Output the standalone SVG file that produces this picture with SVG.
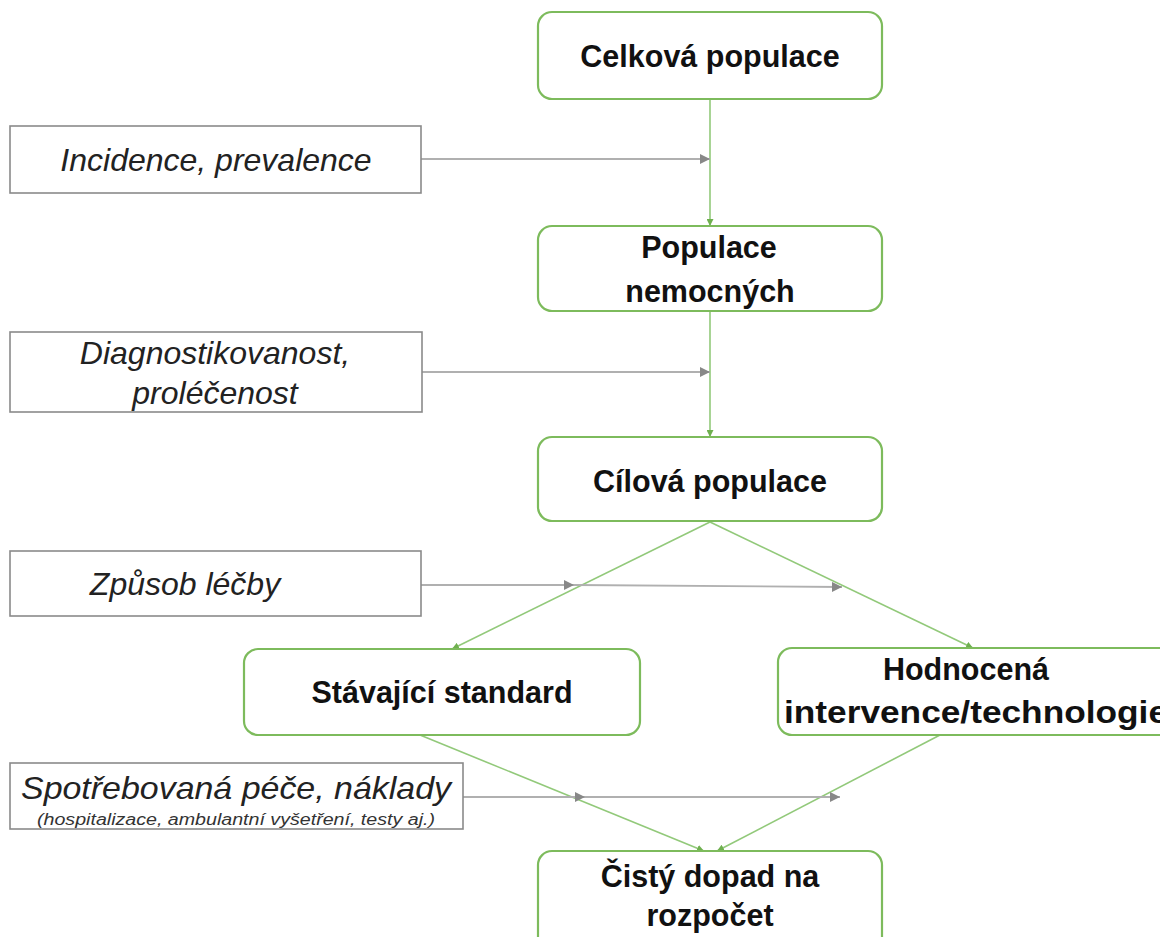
<svg xmlns="http://www.w3.org/2000/svg" width="1160" height="937" viewBox="0 0 1160 937">
<defs>
<style>
.node{fill:#fff;stroke:#7dbb5c;stroke-width:2.2}
.inp{fill:#fff;stroke:#8a8a8a;stroke-width:1.6}
.nt{font-family:"Liberation Sans",Arial,sans-serif;font-weight:bold;font-size:30.5px;fill:#111;text-anchor:middle}
.it{font-family:"Liberation Sans",Arial,sans-serif;font-style:italic;font-size:32px;fill:#222;text-anchor:middle}
.sm{font-family:"Liberation Sans",Arial,sans-serif;font-style:italic;font-size:16px;fill:#333;text-anchor:middle}
.g{stroke:#92c97a;stroke-width:1.6;fill:none}
.k{stroke:#b0b0b0;stroke-width:1.8;fill:none}
</style>
<marker id="ga" viewBox="0 0 10 10" refX="10" refY="5" markerWidth="7" markerHeight="7" markerUnits="userSpaceOnUse" orient="auto"><path d="M0,0L10,5L0,10z" fill="#6fb04f"/></marker>
<marker id="ka" viewBox="0 0 10 10" refX="10" refY="5" markerWidth="10" markerHeight="10" markerUnits="userSpaceOnUse" orient="auto"><path d="M0,0L10,5L0,10z" fill="#888"/></marker>
</defs>
<rect width="1160" height="937" fill="#fff"/>
<g id="connectors">
<line class="g" x1="710" y1="99" x2="710" y2="226" marker-end="url(#ga)"/>
<line class="g" x1="710" y1="311" x2="710" y2="437" marker-end="url(#ga)"/>
<line class="g" x1="710" y1="522" x2="452" y2="649" marker-end="url(#ga)"/>
<line class="g" x1="710" y1="522" x2="973" y2="648" marker-end="url(#ga)"/>
<line class="g" x1="420" y1="735" x2="704" y2="851" marker-end="url(#ga)"/>
<line class="g" x1="940" y1="735" x2="717" y2="851" marker-end="url(#ga)"/>
<line class="k" x1="421" y1="159" x2="710" y2="159" marker-end="url(#ka)"/>
<line class="k" x1="422" y1="372" x2="710" y2="372" marker-end="url(#ka)"/>
<line class="k" x1="421" y1="585" x2="574" y2="585" marker-end="url(#ka)"/>
<line class="k" x1="574" y1="585" x2="842" y2="587" marker-end="url(#ka)"/>
<line class="k" x1="463" y1="797" x2="585" y2="797" marker-end="url(#ka)"/>
<line class="k" x1="585" y1="797" x2="840" y2="797" marker-end="url(#ka)"/>
</g>
<g id="n-celkova"><rect class="node" x="538" y="12" width="344" height="87" rx="14"/><text class="nt" x="710" y="67">Celková populace</text></g>
<g id="n-nemocnych"><rect class="node" x="538" y="226" width="344" height="85" rx="14"/><text class="nt" x="709" y="258">Populace</text><text class="nt" x="710" y="302">nemocných</text></g>
<g id="n-cilova"><rect class="node" x="538" y="437" width="344" height="84" rx="14"/><text class="nt" x="710" y="492">Cílová populace</text></g>
<g id="n-standard"><rect class="node" x="244" y="649" width="396" height="86" rx="14"/><text class="nt" x="442" y="703">Stávající standard</text></g>
<g id="n-intervence"><rect class="node" x="778" y="648" width="400" height="87" rx="14"/><text class="nt" x="966" y="680">Hodnocená</text><text class="nt" x="784" y="723" style="text-anchor:start" textLength="384" lengthAdjust="spacingAndGlyphs">intervence/technologie</text></g>
<g id="n-dopad"><rect class="node" x="538" y="851" width="344" height="100" rx="14"/><text class="nt" x="710" y="887">Čistý dopad na</text><text class="nt" x="710" y="926">rozpočet</text></g>
<g id="i-incidence"><rect class="inp" x="10" y="126" width="411" height="67"/><text class="it" x="216" y="171">Incidence, prevalence</text></g>
<g id="i-diagnostika"><rect class="inp" x="10" y="332" width="412" height="80"/><text class="it" x="215" y="364">Diagnostikovanost,</text><text class="it" x="215" y="404">proléčenost</text></g>
<g id="i-zpusob"><rect class="inp" x="10" y="551" width="411" height="65"/><text class="it" x="185" y="595">Způsob léčby</text></g>
<g id="i-pece"><rect class="inp" x="10" y="763" width="453" height="66"/><text class="it" x="236" y="799" textLength="430" lengthAdjust="spacingAndGlyphs">Spotřebovaná péče, náklady</text><text class="sm" x="236" y="825" textLength="398" lengthAdjust="spacingAndGlyphs">(hospitalizace, ambulantní vyšetření, testy aj.)</text></g>
</svg>
